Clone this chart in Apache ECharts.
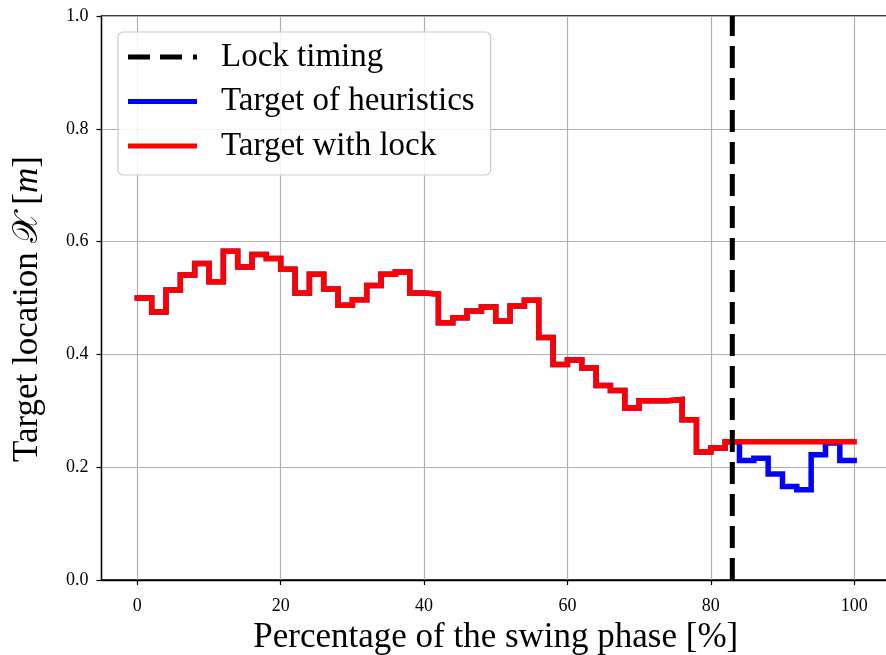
<!DOCTYPE html>
<html>
<head>
<meta charset="utf-8">
<script src="https://cdn.jsdelivr.net/npm/echarts@6/dist/echarts.min.js"></script>
<style>html,body{margin:0;padding:0;background:#fff}#c{width:886px;height:655px}</style>
</head>
<body>
<div id="c"></div>
<script>
// Percentage of swing phase (step boundaries)
const phase = [0,2,4,6,8,10,12,14,16,18,20,22,24,26,28,30,32,34,36,38,40,42,44,46,48,50,52,54,56,58,60,62,64,66,68,70,72,74,76,78,80,82,84,86,88,90,92,94,96,98,100];
// Target of heuristics
const heuristics = [0.500,0.475,0.514,0.541,0.561,0.529,0.583,0.555,0.577,0.570,0.551,0.509,0.542,0.516,0.487,0.497,0.522,0.542,0.546,0.509,0.507,0.456,0.465,0.477,0.484,0.459,0.486,0.496,0.430,0.382,0.390,0.376,0.345,0.336,0.305,0.318,0.318,0.320,0.284,0.227,0.234,0.245,0.212,0.216,0.188,0.166,0.160,0.222,0.243,0.212,0.212];
// Target with lock
const withLock = [0.500,0.475,0.514,0.541,0.561,0.529,0.583,0.555,0.577,0.570,0.551,0.509,0.542,0.516,0.487,0.497,0.522,0.542,0.546,0.509,0.507,0.456,0.465,0.477,0.484,0.459,0.486,0.496,0.430,0.382,0.390,0.376,0.345,0.336,0.305,0.318,0.318,0.320,0.284,0.227,0.234,0.245,0.245,0.245,0.245,0.245,0.245,0.245,0.245,0.245,0.245];
// Lock timing
const lockX = [83, 83];
const lockY = [0, 1];
const xTicks = [0,20,40,60,80,100];
const yTicks = [0.0,0.2,0.4,0.6,0.8,1.0];
const seriesNames = ['Lock timing','Target of heuristics','Target with lock'];

const FONT = '"Liberation Serif", "DejaVu Serif", serif';
const chart = echarts.init(document.getElementById('c'), null, {renderer:'canvas'});
const zip = (a,b) => a.map((v,i)=>[v,b[i]]);
const dashIcon = 'path://M0 0H22V5H0Z M32 0H54V5H32Z M65 0H69V5H65Z';
const solidIcon = 'path://M0 0H69V5H0Z';

chart.setOption({
  animation: false,
  backgroundColor: '#fff',
  grid: {left:101.5, right:-4, top:16, bottom:75, containLabel:false, outerBoundsMode:'none', show:true, borderColor:'#000', borderWidth:1.3, backgroundColor:'transparent'},
  legend: {
    data: [
      {name: seriesNames[0], icon: dashIcon},
      {name: seriesNames[1], icon: solidIcon},
      {name: seriesNames[2], icon: solidIcon}
    ],
    left: 118, top: 32,
    orient: 'vertical',
    itemWidth: 69, itemHeight: 5, itemGap: 10.5,
    padding: [8, 16, 12, 10],
    borderColor: '#cccccc', borderWidth: 1.2, borderRadius: 5,
    backgroundColor: 'rgba(255,255,255,0.85)',
    textStyle: {fontFamily: FONT, fontSize: 33, color:'#000', lineHeight: 34, padding:[0,0,0,19]}
  },
  xAxis: {
    type: 'value', min: -5, max: 105,
    axisLine: {show:true, onZero:false, lineStyle:{color:'#000', width:1.3}},
    axisTick: {show:true, inside:false, length:5, lineStyle:{color:'#000', width:1.2}, customValues: xTicks},
    axisLabel: {fontFamily: FONT, fontSize: 18, color:'#000', margin:17, customValues: xTicks, formatter: v => String(Math.round(v))},
    splitLine: {show:true, lineStyle:{color:'#b0b0b0', width:1.2}},
    name: 'Percentage of the swing phase [%]',
    nameLocation: 'middle', nameGap: 32,
    nameTextStyle: {fontFamily: FONT, fontSize: 35, color:'#000'}
  },
  yAxis: {
    type: 'value', min: 0, max: 1, interval: 0.2,
    axisLine: {show:true, onZero:false, lineStyle:{color:'#000', width:1.3}},
    axisTick: {show:true, inside:false, length:5, lineStyle:{color:'#000', width:1.2}},
    axisLabel: {fontFamily: FONT, fontSize: 18, color:'#000', margin:13, formatter: v => v.toFixed(1)},
    splitLine: {show:true, lineStyle:{color:'#b0b0b0', width:1.2}},
    name: '{n|Target location }{c|𝒳}{n| [}{i|m}{n|]}',
    nameLocation: 'middle', nameGap: 56, nameRotate: 90,
    nameTextStyle: {
      padding: [0, 22, 0, 0],
      rich: {
        n: {fontFamily: FONT, fontSize: 35, color:'#000'},
        c: {fontFamily: '"DejaVu Sans", "Noto Sans", serif', fontSize: 35, color:'#000'},
        i: {fontFamily: FONT, fontSize: 35, fontStyle:'italic', color:'#000'}
      }
    }
  },
  series: [
    {
      name: 'Target of heuristics', type: 'line', step: 'end',
      data: zip(phase, heuristics), showSymbol: false, symbol: 'none',
      lineStyle: {color:'#0000ff', width:5.5, cap:'square', join:'miter'}, itemStyle:{color:'#0000ff'}, z: 2
    },
    {
      name: 'Target with lock', type: 'line', step: 'end',
      data: zip(phase, withLock), showSymbol: false, symbol: 'none',
      lineStyle: {color:'#ff0000', width:5.5, cap:'square', join:'miter'}, itemStyle:{color:'#ff0000'}, z: 3
    },
    {
      name: 'Lock timing', type: 'line',
      data: zip(lockX, lockY), showSymbol: false, symbol: 'none',
      lineStyle: {color:'#000', width:5, type:[22,10]}, itemStyle:{color:'#000'}, z: 4
    }
  ]
});
</script>
</body>
</html>
